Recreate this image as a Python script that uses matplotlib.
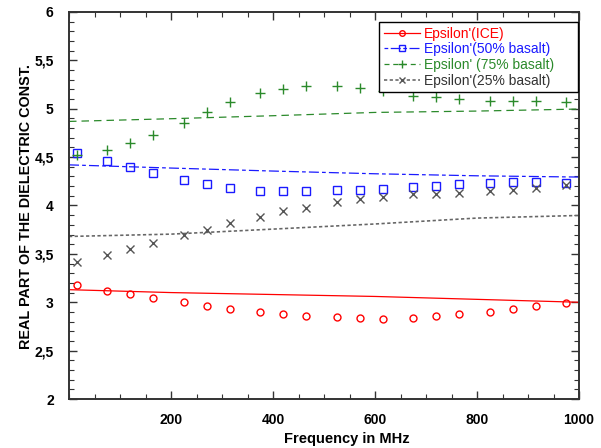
import numpy as np
import matplotlib
matplotlib.use("Agg")
import matplotlib.pyplot as plt
from matplotlib.lines import Line2D
from matplotlib.ticker import MultipleLocator, FuncFormatter

plt.rcParams['font.family'] = ['Liberation Sans', 'DejaVu Sans']

# measured points (MHz)
freq = [15, 75, 120, 165, 225, 270, 315, 375, 420, 465,
        525, 570, 615, 675, 720, 765, 825, 870, 915, 975]
eps_ice = [3.18, 3.115, 3.084, 3.042, 3.001, 2.960, 2.929, 2.898, 2.877, 2.856,
           2.844, 2.834, 2.832, 2.842, 2.856, 2.877, 2.904, 2.935, 2.960, 2.997]
eps_b50 = [4.542, 4.459, 4.397, 4.335, 4.263, 4.221, 4.186, 4.155, 4.149, 4.149,
           4.157, 4.157, 4.170, 4.190, 4.200, 4.221, 4.232, 4.242, 4.242, 4.232]
eps_b75 = [4.524, 4.569, 4.645, 4.728, 4.848, 4.966, 5.072, 5.165, 5.207, 5.238,
           5.238, 5.217, 5.180, 5.134, 5.121, 5.103, 5.083, 5.083, 5.083, 5.072]
eps_b25 = [3.411, 3.493, 3.552, 3.614, 3.700, 3.749, 3.814, 3.886, 3.938, 3.979,
           4.033, 4.066, 4.083, 4.114, 4.124, 4.134, 4.145, 4.162, 4.180, 4.214]

# model curves
fit_x = [0, 200, 400, 600, 800, 1000]
fit_ice = [3.13, 3.10, 3.08, 3.06, 3.03, 3.00]
fit_b50 = [4.42, 4.387, 4.356, 4.328, 4.307, 4.294]
fit_b75 = [4.869, 4.897, 4.928, 4.962, 4.976, 4.997]
fit_b25 = [3.68, 3.704, 3.756, 3.809, 3.870, 3.897]

labels = ["Epsilon'(ICE)", "Epsilon'(50% basalt)",
          "Epsilon' (75% basalt)", "Epsilon'(25% basalt)"]

red = '#ff0000'
blue = '#1a1aff'
green = '#2b8a2b'
grey = '#555555'

fig = plt.figure(figsize=(6.01, 4.48), dpi=100)
ax = fig.add_axes([69/601, 1 - 399/448, 510/601, 387/448])

lw = 0.9
ax.plot(fit_x, fit_ice, color=red, lw=lw, ls='-')
ax.plot(fit_x, fit_b50, color=blue, lw=lw, dashes=(8, 2.5, 3, 2.5))
ax.plot(fit_x, fit_b75, color=green, lw=lw, dashes=(6, 4))
ax.plot(fit_x, fit_b25, color='#666666', lw=lw * 1.3, dashes=(2, 1.5))

ax.plot(freq, eps_ice, ls='none', marker='o', ms=5, mfc='none', mec=red, mew=1)
ax.plot(freq, eps_b50, ls='none', marker='s', ms=5.5, mfc='none', mec=blue, mew=1)
ax.plot(freq, eps_b75, ls='none', marker='+', ms=7, mec=green, mew=1)
ax.plot(freq, eps_b25, ls='none', marker='x', ms=5.5, mec=grey, mew=1)

ax.set_xlim(0, 1000)
ax.set_ylim(2, 6)
ax.set_xticks([200, 400, 600, 800, 1000])
ax.xaxis.set_minor_locator(MultipleLocator(50))
ax.yaxis.set_major_locator(MultipleLocator(0.5))
ax.yaxis.set_minor_locator(MultipleLocator(0.1))
ax.yaxis.set_major_formatter(FuncFormatter(
    lambda v, p: ('%d' % v) if abs(v - round(v)) < 1e-6 else ('%.1f' % v).replace('.', ',')))

ax.tick_params(which='both', direction='in', top=True, right=True, color='#333333')
ax.tick_params(which='major', length=6, width=1, labelsize=10)
ax.tick_params(axis='x', which='major', pad=10)
ax.tick_params(axis='y', which='major', pad=11)
ax.tick_params(which='minor', length=3.5, width=0.8)
for t in ax.get_xticklabels() + ax.get_yticklabels():
    t.set_fontweight('bold')
for s in ax.spines.values():
    s.set_color('#333333')
    s.set_linewidth(1.4)

ax.set_xlabel('Frequency in MHz', fontsize=10.5, fontweight='bold')
ax.xaxis.set_label_coords(0.545, -0.086)
ax.set_ylabel('REAL PART OF THE DIELECTRIC CONST.', fontsize=10.4, fontweight='bold')
ax.yaxis.set_label_coords(-0.070, 0.496)

handles = [
    Line2D([], [], color=red, lw=lw, marker='o', ms=4, mfc='none', mec=red),
    Line2D([], [], color=blue, lw=lw, dashes=(3, 2, 8, 2), marker='s', ms=4.5, mfc='none', mec=blue),
    Line2D([], [], color=green, lw=lw, dashes=(4, 3), marker='+', ms=6, mec=green),
    Line2D([], [], color='#666666', lw=lw * 1.3, dashes=(2, 1.5), marker='x', ms=4.5, mec=grey),
]
leg = ax.legend(handles, labels, loc='upper left', bbox_to_anchor=(0.608, 0.791, 0.39, 0.184),
                mode='expand', borderaxespad=0, fancybox=False, framealpha=1,
                edgecolor='black', fontsize=10, handlelength=2.6, handletextpad=0.3,
                labelspacing=0.12, borderpad=0.35)
leg.get_frame().set_linewidth(1)
for txt, c in zip(leg.get_texts(), [red, blue, green, '#333333']):
    txt.set_color(c)

fig.savefig('out.png', dpi=100)
